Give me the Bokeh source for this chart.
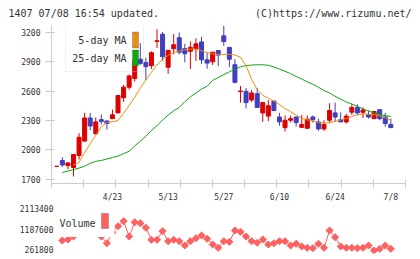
import numpy as np
from bokeh.plotting import figure
from bokeh.models import (Range1d, FixedTicker, Label, BoxAnnotation, ColumnDataSource,
                          BasicTickFormatter)
from bokeh.layouts import column
from bokeh.embed import file_html
from bokeh.resources import INLINE

nan = float("nan")

# daily prices, oldest first
opens = [1830, 1890, 1838, 1818, 1940, 2088, 2325, 2164, 2308, 2295,
         2318, 2377, 2532, 2640, 2729, 2927, 2894, 2860, 3109, 3183,
         2845, 3035, 3147, 3035, 3008, 3035, 3104, 2920, 2900, 3015,
         3166, 3048, 2870, 2595, 2598, 2509, 2574, 2377, 2344, 2499,
         2335, 2226, 2302, 2335, 2229, 2219, 2335, 2285, 2213, 2302,
         2377, 2308, 2285, 2384, 2433, 2384, 2357, 2318, 2410, 2335, 2259]
highs = [1830, 1923, 1875, 1952, 2170, 2377, 2377, 2330, 2360, 2295,
         2410, 2560, 2663, 2770, 2943, 3091, 2943, 3008, 3232, 3206,
         3018, 3183, 3200, 3084, 3110, 3141, 3156, 2993, 2999, 3015,
         3270, 3048, 2927, 2653, 2631, 2614, 2631, 2489, 2509, 2499,
         2377, 2351, 2351, 2335, 2357, 2351, 2351, 2318, 2302, 2476,
         2483, 2384, 2367, 2466, 2466, 2433, 2401, 2391, 2410, 2377, 2318]
lows = [1830, 1821, 1800, 1726, 1900, 2080, 2199, 2154, 2260, 2206,
        2318, 2377, 2490, 2615, 2697, 2867, 2712, 2828, 3042, 2910,
        2779, 2976, 2976, 2894, 2828, 2910, 2877, 2828, 2867, 2855,
        3065, 2845, 2680, 2482, 2423, 2489, 2433, 2285, 2292, 2394,
        2246, 2186, 2278, 2236, 2226, 2219, 2278, 2193, 2193, 2278,
        2285, 2285, 2268, 2357, 2351, 2325, 2318, 2318, 2302, 2236, 2226]
closes = [1830, 1844, 1864, 1950, 2127, 2325, 2243, 2285, 2288, 2268,
          2357, 2555, 2640, 2756, 2910, 2884, 2851, 2993, 3116, 2953,
          3018, 3075, 2999, 2983, 3048, 3084, 2920, 2887, 2999, 2969,
          3107, 2927, 2690, 2601, 2483, 2581, 2433, 2483, 2450, 2401,
          2285, 2302, 2318, 2278, 2259, 2312, 2308, 2213, 2259, 2401,
          2335, 2285, 2344, 2433, 2377, 2406, 2335, 2391, 2318, 2268, 2226]

ma5 = [nan, nan, nan, 1846, 1871, 1969, 2063, 2147, 2236, 2280,
       2285, 2300, 2374, 2453, 2537, 2631, 2714, 2793, 2867, 2927,
       2966, 2996, 3010, 3025, 3030, 3030, 3015, 2993, 2981, 2976,
       2976, 2976, 2971, 2946, 2861, 2719, 2616, 2557, 2527, 2497,
       2463, 2423, 2389, 2354, 2320, 2305, 2295, 2280, 2275, 2275,
       2290, 2305, 2320, 2339, 2361, 2367, 2364, 2359, 2349, 2330, 2300]
ma25 = [nan, 1767, 1782, 1797, 1812, 1831, 1861, 1881, 1890, 1905,
        1920, 1935, 1960, 1984, 2038, 2088, 2137, 2196, 2246, 2305,
        2354, 2399, 2433, 2492, 2542, 2581, 2621, 2650, 2710, 2739,
        2769, 2798, 2823, 2848, 2862, 2867, 2870, 2870, 2864, 2848,
        2825, 2803, 2779, 2749, 2724, 2695, 2670, 2640, 2606, 2581,
        2547, 2517, 2488, 2468, 2443, 2418, 2396, 2379, 2359, 2349, 2341]

volume = [nan, 682000, 727000, 863000, 1314000, 1495000, 1224000, 998000, 863000, 560000,
          1043000, 1328000, 1554000, 863000, 1508000, 1463000, 1256000, 714000, 714000, 1102000,
          650000, 714000, 650000, 456000, 650000, 786000, 908000, 759000, 501000, 352000,
          650000, 623000, 1134000, 1075000, 863000, 650000, 578000, 727000, 501000, 560000,
          650000, 650000, 456000, 533000, 411000, 352000, 334000, 533000, 352000, 1134000,
          831000, 411000, 352000, 352000, 334000, 352000, 456000, 230000, 307000, 456000, 307000]

date_ticks = [10, 20, 30, 40, 50, 60]
date_labels = ["4/23", "5/13", "5/27", "6/10", "6/24", "7/8"]
price_ticks = [1700, 2000, 2300, 2600, 2900, 3200]
volume_ticks = [261800, 1187600, 2113400]

RED = "#dd0000"
BLUE = "#3f3fbf"
ORANGE = "#f08c10"
GREEN = "#10a810"
VOLC = "#ff6060"
AXIS = "#cccccc"
TEXT = "#333333"
FONT = "DejaVu Sans Mono"

x_lo, x_hi = -0.95, 62.64


def screen_box(**kw):
    return BoxAnnotation(left_units="screen", right_units="screen",
                         top_units="screen", bottom_units="screen", **kw)


def free_frame(fig):
    # keep each panel's frame where its own borders put it
    if "frame_align" in fig.properties():
        fig.frame_align = False


# ---------------- header strip ----------------
hdr = figure(width=420, height=25, output_backend="svg", toolbar_location=None,
             title=None, x_range=Range1d(0, 420), y_range=Range1d(0, 25),
             x_axis_type=None, y_axis_type=None, min_border=0)
hdr.outline_line_color = None
hdr.grid.visible = False
hdr.add_layout(Label(x=8, y=12.5, text="1407 07/08 16:54 updated.", text_font=FONT,
                     text_font_size="10px", text_color=TEXT, text_baseline="middle"))
hdr.add_layout(Label(x=411, y=12.5, text="(C)https://www.rizumu.net/", text_font=FONT,
                     text_font_size="10px", text_color=TEXT, text_baseline="middle",
                     text_align="right"))
free_frame(hdr)

# ---------------- price panel ----------------
p = figure(width=420, height=179, output_backend="svg", toolbar_location=None,
           title=None, x_range=Range1d(x_lo, x_hi), y_range=Range1d(1654, 3272),
           min_border_left=51, min_border_right=15, min_border_top=0,
           min_border_bottom=15)
p.outline_line_color = None
p.xgrid.visible = False
p.ygrid.visible = False
free_frame(p)

o = np.array(opens, float)
h = np.array(highs, float)
l = np.array(lows, float)
c = np.array(closes, float)
idx = np.arange(len(o))
up = c >= o

for mask, col in ((up, RED), (~up, BLUE)):
    src = ColumnDataSource(dict(x=idx[mask], hi=h[mask], lo=l[mask],
                                top=np.maximum(o, c)[mask],
                                bot=np.minimum(o, c)[mask]))
    p.segment(x0="x", y0="lo", x1="x", y1="hi", source=src, line_color=col, line_width=1)
    p.vbar(x="x", width=0.72, top="top", bottom="bot", source=src,
           fill_color=col, line_color=col, line_width=1)

p.line(idx, ma25, line_color=GREEN, line_width=1)
p.line(idx, ma5, line_color=ORANGE, line_width=1)

yax = p.yaxis[0]
yax.ticker = FixedTicker(ticks=price_ticks)
yax.axis_line_color = AXIS
yax.major_tick_line_color = AXIS
yax.major_tick_in = 3
yax.major_tick_out = 6
yax.minor_tick_line_color = None
yax.major_label_text_font = FONT
yax.major_label_text_font_size = "8px"
yax.major_label_text_color = TEXT
yax.major_label_standoff = 5

xax = p.xaxis[0]
xax.ticker = FixedTicker(ticks=date_ticks,
                         minor_ticks=list(np.linspace(x_lo, x_hi, 12)))
xax.major_label_overrides = {t: s for t, s in zip(date_ticks, date_labels)}
xax.axis_line_color = AXIS
xax.major_tick_line_color = None
xax.major_tick_in = 0
xax.major_tick_out = 0
xax.minor_tick_line_color = AXIS
xax.minor_tick_in = 4
xax.minor_tick_out = 4
xax.major_label_text_font = FONT
xax.major_label_text_font_size = "8px"
xax.major_label_text_color = TEXT
xax.major_label_standoff = 5

# moving-average key
p.add_layout(screen_box(left=14, right=92, top=159, bottom=112,
                        fill_alpha=0, line_color=AXIS, line_width=1))
for label, col, yc in (("5-day MA", ORANGE, 143.5), ("25-day MA", GREEN, 125.5)):
    p.add_layout(Label(x=75, y=yc, x_units="screen", y_units="screen", text=label,
                       text_font=FONT, text_font_size="10px", text_color=TEXT,
                       text_align="right", text_baseline="middle"))
    p.add_layout(screen_box(left=81, right=87, top=yc + 8, bottom=yc - 8,
                            fill_color=col, fill_alpha=1, line_color="#444444",
                            line_width=1))

# ---------------- volume panel ----------------
v = figure(width=420, height=55, output_backend="svg", toolbar_location=None,
           title=None, x_range=Range1d(-0.054, x_hi), y_range=Range1d(94704, 2307593),
           min_border_left=56, min_border_right=15, min_border_top=0,
           min_border_bottom=6)
v.outline_line_color = None
v.xgrid.visible = False
v.ygrid.visible = False
v.xaxis.visible = False
free_frame(v)
v.line(idx, volume, line_color=VOLC, line_width=1)
v.scatter(idx, volume, marker="square", angle=np.pi / 4, size=5,
          fill_color=VOLC, line_color=VOLC)

vy = v.yaxis[0]
vy.ticker = FixedTicker(ticks=volume_ticks)
vy.formatter = BasicTickFormatter(use_scientific=False)
vy.axis_line_color = None
vy.major_tick_line_color = None
vy.minor_tick_line_color = None
vy.major_tick_in = 0
vy.major_tick_out = 0
vy.major_label_text_font = FONT
vy.major_label_text_font_size = "8px"
vy.major_label_text_color = TEXT
vy.major_label_standoff = 3

v.add_layout(screen_box(left=-1, right=58, top=45, bottom=16.5,
                        fill_color="white", fill_alpha=1, line_color=None))
v.add_layout(Label(x=3, y=30, x_units="screen", y_units="screen", text="Volume",
                   text_font=FONT, text_font_size="10px", text_color=TEXT,
                   text_baseline="middle"))
v.add_layout(screen_box(left=45, right=52, top=40, bottom=25,
                        fill_color=VOLC, fill_alpha=1, line_color="#444444",
                        line_width=1))

layout = column(hdr, p, v, spacing=0)
open("out.html", "w").write(file_html(layout, INLINE))
